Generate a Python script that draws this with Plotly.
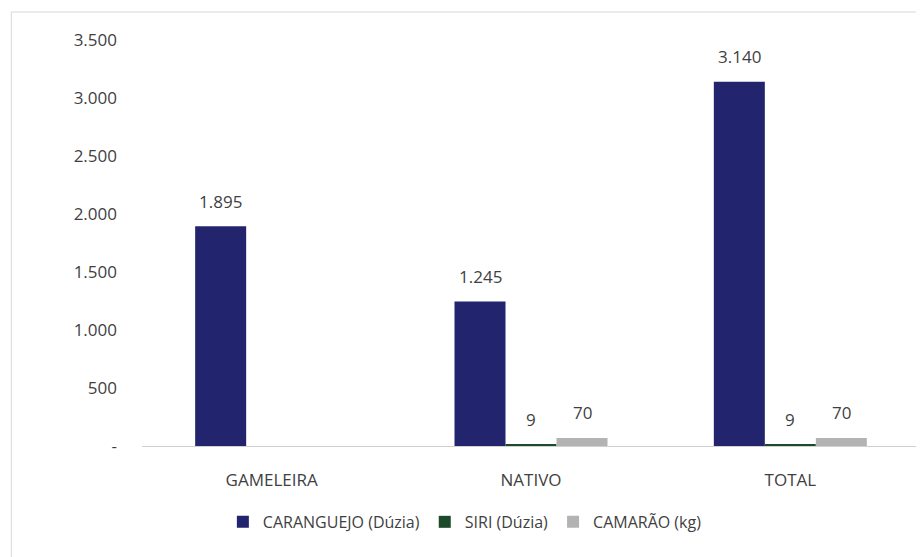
import plotly.graph_objects as go

categories = ["GAMELEIRA", "NATIVO", "TOTAL"]
caranguejo = [1895, 1245, 3140]
siri = [None, 9, 9]
camarao = [None, 70, 70]

y_ticks = [0, 500, 1000, 1500, 2000, 2500, 3000, 3500]
y_ticktext = ["-", "500", "1.000", "1.500", "2.000", "2.500", "3.000", "3.500"]

FONT = "'Open Sans', sans-serif"
TEXT = "#3f3f3f"

series = [
    ("CARANGUEJO (Dúzia)", caranguejo, "#23246e", -51),
    ("SIRI (Dúzia)", siri, "#1d4a2a", 0),
    ("CAMARÃO (kg)", camarao, "#b3b3b3", 51),
]

fig = go.Figure()
annotations = []
for name, vals, color, shift in series:
    fig.add_trace(go.Bar(
        x=categories,
        y=vals,
        name=name,
        marker=dict(color=color, line=dict(width=0)),
    ))
    for cat, v in zip(categories, vals):
        if v is None:
            continue
        annotations.append(dict(
            x=cat, y=v, xref="x", yref="y",
            text=f"{v:,}".replace(",", "."),
            showarrow=False,
            xshift=shift, yshift=25,
            yanchor="middle",
            font=dict(size=17, color=TEXT, family=FONT),
        ))

# page body has an 8px margin, so the figure is 8px smaller and margins shifted
fig.update_layout(
    width=916,
    height=549,
    barmode="group",
    bargap=0.41,
    bargroupgap=0,
    plot_bgcolor="white",
    paper_bgcolor="white",
    margin=dict(l=134, r=4, t=32, b=111),
    font=dict(family=FONT, size=17, color=TEXT),
    annotations=annotations,
    legend=dict(
        orientation="h",
        x=0.415, xanchor="center",
        y=-0.187, yanchor="middle",
        font=dict(size=16, color=TEXT),
        itemwidth=30,
        tracegroupgap=0,
    ),
    xaxis=dict(
        showgrid=False,
        showline=True,
        linecolor="#d0d0d0",
        linewidth=1,
        ticks="",
        tickfont=dict(size=17, color=TEXT),
        ticklabelstandoff=19,
    ),
    yaxis=dict(
        range=[0, 3500],
        tickvals=y_ticks,
        ticktext=y_ticktext,
        showgrid=False,
        zeroline=False,
        showline=False,
        ticks="",
        tickfont=dict(size=17, color=TEXT),
        ticklabelstandoff=24,
    ),
    shapes=[dict(
        type="rect", xref="paper", yref="paper",
        x0=-0.168, x1=1.0013, y0=-0.3, y1=1.069,
        line=dict(color="#d9d9d9", width=1),
    )],
)

fig.write_html("out.html", config=dict(displayModeBar=False))
